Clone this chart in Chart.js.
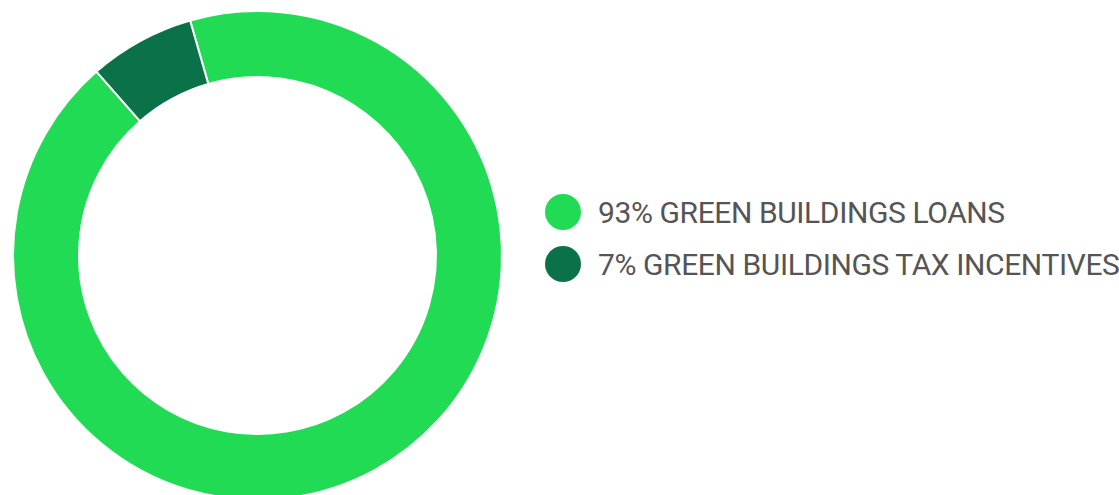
<!DOCTYPE html>
<html>
<head>
<meta charset="utf-8">
<script src="https://cdn.jsdelivr.net/npm/chart.js@4/dist/chart.umd.min.js"></script>
<style>
  html, body { margin: 0; padding: 0; background: #fff; overflow: hidden; }
  #wrap { position: relative; width: 1119px; height: 495px; }
  #chartBox { position: absolute; left: 0; top: 0; width: 515px; height: 511px; }
  #legend { position: absolute; left: 545px; top: 186px; list-style: none; margin: 0; padding: 0; }
  #legend li { display: flex; align-items: center; height: 52px; font-family: Roboto, sans-serif;
               font-weight: 400; font-size: 30px; letter-spacing: -0.4px; color: #555; white-space: nowrap; }
  #legend .dot { width: 36px; height: 36px; border-radius: 50%; margin-right: 17px; flex: none; }
</style>
</head>
<body>
<div id="wrap">
  <div id="chartBox"><canvas id="donut"></canvas></div>
  <ul id="legend"></ul>
</div>
<script>
// Share of green building financing
const labels = ['GREEN BUILDINGS LOANS', 'GREEN BUILDINGS TAX INCENTIVES'];
const shares = [93, 7];
const colors = ['#21db55', '#0b7148'];

const chart = new Chart(document.getElementById('donut'), {
    type: 'doughnut',
    data: {
        labels: labels,
        datasets: [{
            data: shares,
            backgroundColor: colors,
            borderColor: '#ffffff',
            borderWidth: 2
        }]
    },
    options: {
        responsive: true,
        maintainAspectRatio: false,
        animation: false,
        cutout: '73%',
        rotation: -16,
        layout: { padding: 10 },
        plugins: {
            legend: { display: false },
            tooltip: { enabled: false }
        }
    }
});

// Legend built from the chart's own labels
const legendEl = document.getElementById('legend');
labels.forEach((name, i) => {
    const li = document.createElement('li');
    const dot = document.createElement('span');
    dot.className = 'dot';
    dot.style.background = colors[i];
    li.appendChild(dot);
    li.appendChild(document.createTextNode(shares[i] + '% ' + name));
    legendEl.appendChild(li);
});
</script>
</body>
</html>
